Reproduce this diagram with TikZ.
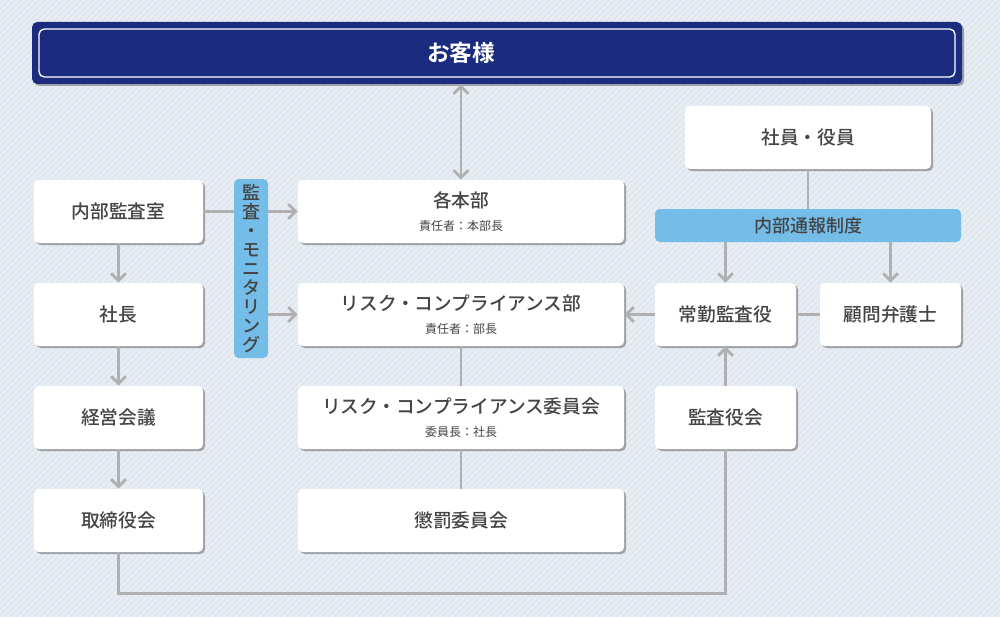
\documentclass[tikz,border=0pt]{standalone}
\usepackage{fontspec}
\newfontfamily\jp{Noto Sans CJK JP}[BoldFont={* Medium}]
\newfontfamily\jpb{Noto Sans CJK JP Bold}
\usetikzlibrary{arrows.meta,shadows}
\definecolor{navy}{RGB}{26,43,128}
\definecolor{barblue}{RGB}{116,189,232}
\definecolor{bgblue}{RGB}{232,237,243}
\definecolor{stripeblue}{RGB}{219,226,236}
\definecolor{linegray}{RGB}{176,176,176}
\definecolor{shade}{RGB}{158,160,164}
\definecolor{txt}{RGB}{68,68,68}
\newcommand{\sub}[1]{{\mdseries\fontsize{9}{11}\selectfont #1}}
\begin{document}
\begin{tikzpicture}[x=0.75pt, y=-0.75pt, >={Straight Barb[length=5.5pt,width=11pt]},
    line/.style={draw=linegray, line width=2.2pt},
    stripe/.style={draw=stripeblue, line width=0.6pt},
    box/.style={fill=white, rounded corners=3.5pt, inner sep=0pt, minimum height=47.25pt, text=txt, align=center,
        font=\jp\bfseries\fontsize{14}{16}\selectfont,
        drop shadow={shadow xshift=1.5pt, shadow yshift=-1.5pt, opacity=1, fill=shade}},
    bar/.style={fill=barblue, rounded corners=3.5pt, inner sep=0pt, text=txt, align=center,
        font=\jp\bfseries\fontsize{13.5}{14.2}\selectfont}]
    \useasboundingbox (0,0) rectangle (1000,617);
    \fill[bgblue] (0,0) rectangle (1000,617);
    \begin{scope}
        \clip (0,0) rectangle (1000,617);
        \foreach \i in {-620,-614,...,1000} \draw[stripe] (\i,617) -- ++(617,-617);
    \end{scope}
    % top
    \node[fill=navy, rounded corners=4pt, minimum width=697.5pt, minimum height=46.5pt,
        drop shadow={shadow xshift=1.5pt, shadow yshift=-1.5pt, opacity=1, fill=shade}] (frame) at (497,53) {};
    \node[draw=white, line width=1pt, fill=navy, rounded corners=4pt, minimum width=687pt, minimum height=36pt] (okyaku) at (frame) {};
    % left column
    \node[box, minimum width=126.75pt] (naibu) at (118.5,211.5) {内部監査室};
    \node[box, minimum width=126.75pt] (shacho) at (118.5,314.5) {社長};
    \node[box, minimum width=126.75pt] (keiei) at (118.5,417.5) {経営会議};
    \node[box, minimum width=126.75pt] (torishimari) at (118.5,520.5) {取締役会};
    \node[bar, minimum width=25.5pt, minimum height=134.25pt] (mon) at (251,268.5) {監\\査\\・\\モ\\ニ\\タ\\リ\\ン\\グ};
    % middle column
    \node[box, minimum width=244.5pt] (honbu) at (461,211.5) {各本部\\[1pt]\sub{責任者：本部長}};
    \node[box, minimum width=244.5pt] (risk) at (461,314.5) {リスク・コンプライアンス部\\[1pt]\sub{責任者：部長}};
    \node[box, minimum width=244.5pt] (iinkai) at (461,417.5) {リスク・コンプライアンス委員会\\[1pt]\sub{委員長：社長}};
    \node[box, minimum width=244.5pt] (choubatsu) at (461,520.5) {懲罰委員会};
    \node[text=white, font=\jpb\fontsize{17}{20}\selectfont] (title) at (okyaku -| honbu) {お客様};
    % right column
    \node[box, minimum width=184.5pt] (shain) at (808,137.5) {社員・役員};
    \node[bar, minimum width=229.5pt, minimum height=24.75pt] (tsuho) at (808,225.5) {内部通報制度};
    \node[box, minimum width=105.75pt] (joukin) at (725.5,314.5) {常勤監査役};
    \node[box, minimum width=105.75pt] (komon) at (890.5,314.5) {顧問弁護士};
    \node[box, minimum width=105.75pt] (kansakai) at (725.5,417.5) {監査役会};
    % connectors
    \draw[line, <->] (honbu.north |- frame.south) -- (honbu.north);
    \draw[line] (naibu.east) -- (mon.west |- naibu);
    \draw[line, ->] (mon.east |- honbu) -- (honbu.west);
    \draw[line, ->] (mon.east |- risk) -- (risk.west);
    \draw[line, ->] (naibu) -- (shacho);
    \draw[line, ->] (shacho) -- (keiei);
    \draw[line, ->] (keiei) -- (torishimari);
    \draw[line] (torishimari.south) -- ++(0,41) -| (kansakai.south);
    \draw[line, ->] (kansakai) -- (joukin);
    \draw[line] (risk) -- (iinkai);
    \draw[line] (iinkai) -- (choubatsu);
    \draw[line] (shain.south) -- (tsuho.north -| shain);
    \draw[line, ->] (tsuho.south -| joukin) -- (joukin.north);
    \draw[line, ->] (tsuho.south -| komon) -- (komon.north);
    \draw[line, ->] (joukin.west) -- (risk.east);
    \draw[line] (joukin.east) -- (komon.west);
\end{tikzpicture}
\end{document}
